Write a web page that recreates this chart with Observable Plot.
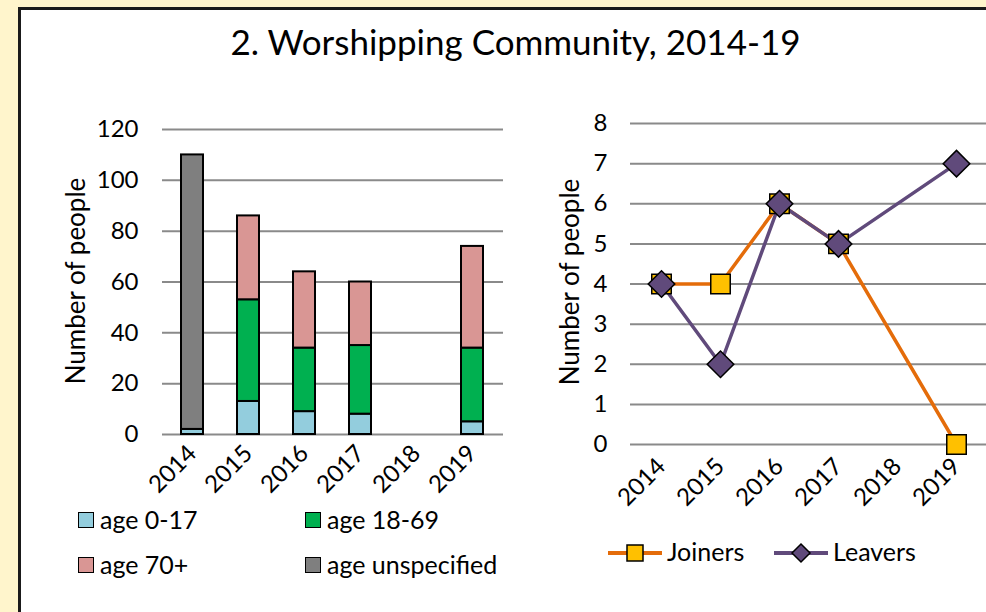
<!DOCTYPE html>
<html><head><meta charset="utf-8">
<script src="https://cdn.jsdelivr.net/npm/d3@7"></script>
<script src="https://cdn.jsdelivr.net/npm/@observablehq/plot@0.6"></script>
<style>
html,body{margin:0;padding:0;}
body{background:#FFF5CC;width:986px;height:612px;overflow:hidden;position:relative;font-family:Lato,sans-serif;color:#000;}
#panel{position:absolute;left:18px;top:7px;width:1100px;height:800px;background:#fff;border-left:3px solid #1a1a1a;border-top:3px solid #1a1a1a;}
#title{position:absolute;left:0;width:1031px;top:20px;text-align:center;font-size:35px;white-space:nowrap;line-height:1.2;}
#left{position:absolute;left:40px;top:100px;}
#right{position:absolute;left:540px;top:100px;}
.leg{position:absolute;font-size:25px;white-space:nowrap;line-height:1;}
.sw{position:absolute;width:14px;height:14px;border:1.5px solid #000;}
.ylab{position:absolute;font-size:26px;white-space:nowrap;line-height:1;transform:translate(-50%,-50%) rotate(-90deg);}
</style></head>
<body>
<div id="panel"></div>
<div id="title">2. Worshipping Community, 2014-19</div>
<div id="left"></div>
<div id="right"></div>
<div id="legL"></div>
<div id="legR"></div>
<script>
const years = ["2014","2015","2016","2017","2018","2019"];
const seriesNames = ["age 0-17","age 18-69","age 70+","age unspecified"];
const seriesColors = ["#93CDDD","#00B050","#D99694","#7F7F7F"];
const age0to17 = [2,13,9,8,null,5];
const age18to69 = [0,40,25,27,null,29];
const age70plus = [0,33,30,25,null,40];
const ageUnspecified = [108,0,0,0,null,0];
const yTicksLeft = [0,20,40,60,80,100,120];
const yLabel = "Number of people";

const joiners = [4,4,6,5,null,0];
const leavers = [4,2,6,5,null,7];
const yTicksRight = [0,1,2,3,4,5,6,7,8];
const lineNames = ["Joiners","Leavers"];
const lineColors = ["#E46C0A","#604A7B"];
const markerFills = ["#FFC000","#604A7B"];

const font = "Lato, sans-serif";
const seriesArrays = [age0to17, age18to69, age70plus, ageUnspecified];
const bars = [];
seriesNames.forEach((s,i)=>years.forEach((y,j)=>{
  const v = seriesArrays[i][j];
  if (v != null && v > 0) bars.push({year:y, series:s, value:v});
}));

const left = Plot.plot({
  width:473, height:404, marginLeft:122, marginRight:10, marginTop:29, marginBottom:70,
  style:{fontFamily:font, fontSize:"24px", background:"transparent", color:"#000", overflow:"visible"},
  x:{domain:years, paddingInner:0.6, paddingOuter:0.3},
  y:{domain:[0,120]},
  color:{domain:seriesNames, range:seriesColors},
  marks:[
    Plot.gridY(yTicksLeft, {stroke:"#8a8a8a", strokeOpacity:1, strokeWidth:2}),
    Plot.axisY(yTicksLeft, {tickSize:0, tickPadding:24, label:null}),
    Plot.axisX({tickSize:0, tickRotate:-45, tickPadding:15, label:null}),
    Plot.barY(bars, {x:"year", y:"value", fill:"series", order:seriesNames, stroke:"#000", strokeWidth:2})
  ]
});
document.getElementById("left").appendChild(left);

const pts = [];
lineNames.forEach((s,i)=>{
  const arr = i===0 ? joiners : leavers;
  years.forEach((y,j)=>{ if (arr[j]!=null) pts.push({year:y, series:s, value:arr[j]}); });
});
const right = Plot.plot({
  width:446, height:414, marginLeft:90, marginRight:0, marginTop:23, marginBottom:70,
  style:{fontFamily:font, fontSize:"24px", background:"transparent", color:"#000", overflow:"visible"},
  x:{type:"point", domain:years, padding:0.5},
  y:{domain:[0,8]},
  color:{domain:lineNames, range:lineColors},
  marks:[
    Plot.gridY(yTicksRight, {stroke:"#8a8a8a", strokeOpacity:1, strokeWidth:2}),
    Plot.axisY(yTicksRight, {tickSize:0, tickPadding:23, label:null}),
    Plot.axisX({tickSize:0, tickRotate:-45, tickPadding:18, label:null}),
    Plot.line(pts, {x:"year", y:"value", z:"series", stroke:"series", strokeWidth:3.5}),
    Plot.dot(pts.filter(d=>d.series==="Joiners"), {x:"year", y:"value", symbol:"square", r:11, fill:markerFills[0], stroke:"#000", strokeWidth:1.5}),
    Plot.dot(pts.filter(d=>d.series==="Leavers"), {x:"year", y:"value", symbol:"square", r:10.6, rotate:45, fill:markerFills[1], stroke:"#000", strokeWidth:1.5})
  ]
});
document.getElementById("right").appendChild(right);

// y-axis titles
[[75,281],[569,282]].forEach(([x,y])=>{
  const d = document.createElement("div"); d.className="ylab"; d.textContent=yLabel;
  d.style.left=x+"px"; d.style.top=y+"px"; document.body.appendChild(d);
});

// left legend
const legL = document.getElementById("legL");
const legPos = [[78,512],[305,512],[78,557],[305,557]];
seriesNames.forEach((s,i)=>{
  const sw = document.createElement("div"); sw.className="sw";
  sw.style.left=legPos[i][0]+"px"; sw.style.top=legPos[i][1]+"px"; sw.style.background=seriesColors[i];
  legL.appendChild(sw);
  const t = document.createElement("div"); t.className="leg"; t.textContent=s;
  t.style.left=(legPos[i][0]+22)+"px"; t.style.top=(legPos[i][1]-5)+"px";
  legL.appendChild(t);
});
// right legend
const legR = document.getElementById("legR");
const rPos = [608, 774];
lineNames.forEach((s,i)=>{
  const svg = d3.create("svg").attr("width",54).attr("height",24)
    .style("position","absolute").style("left",rPos[i]+"px").style("top","541px");
  svg.append("line").attr("x1",0).attr("x2",54).attr("y1",12).attr("y2",12).attr("stroke",lineColors[i]).attr("stroke-width",4);
  if (i===0) svg.append("rect").attr("x",19).attr("y",4).attr("width",16).attr("height",16).attr("fill",markerFills[0]).attr("stroke","#000").attr("stroke-width",1.5);
  else svg.append("path").attr("d","M27,3L36,12L27,21L18,12Z").attr("fill",markerFills[1]).attr("stroke","#000").attr("stroke-width",1.5);
  legR.appendChild(svg.node());
  const t = document.createElement("div"); t.className="leg"; t.textContent=s;
  t.style.left=(rPos[i]+59)+"px"; t.style.top="539px";
  legR.appendChild(t);
});
</script>
</body></html>
